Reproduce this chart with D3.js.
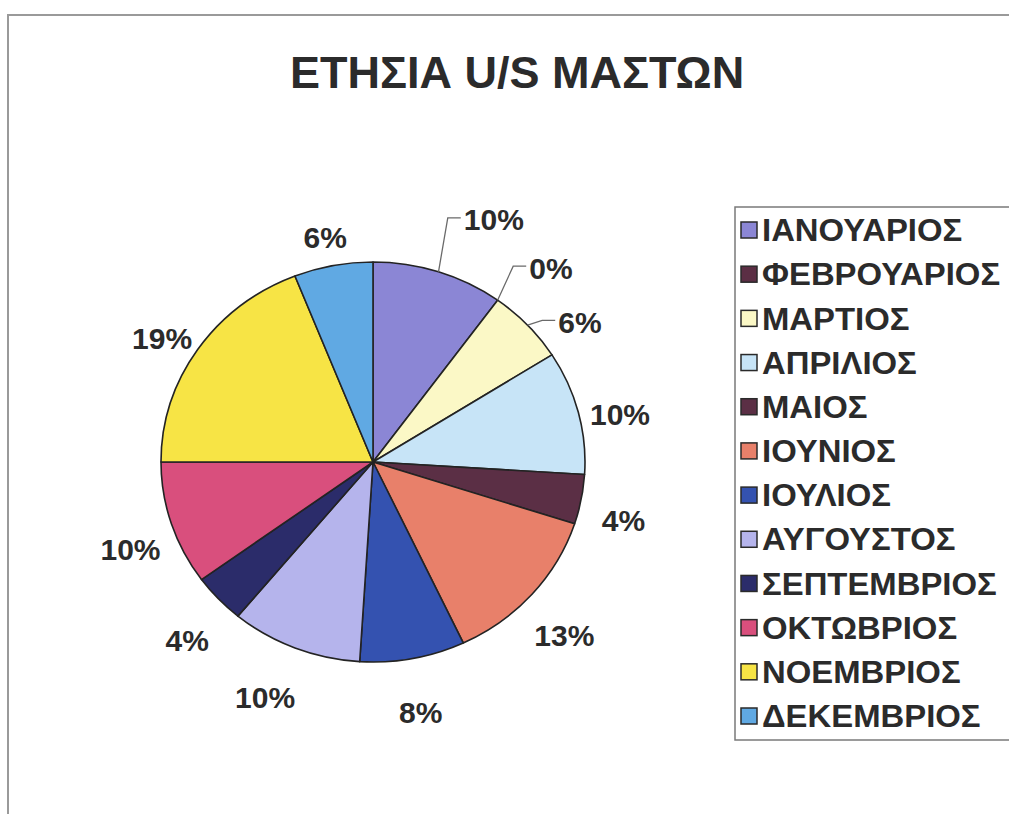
<!DOCTYPE html>
<html>
<head>
<meta charset="utf-8">
<script src="https://cdn.jsdelivr.net/npm/d3@7/dist/d3.min.js"></script>
<style>
  html, body { margin: 0; padding: 0; background: #ffffff; }
  svg { display: block; }
  text { font-family: "Liberation Sans", Arial, sans-serif; font-weight: bold; fill: #2b2b2b; }
</style>
</head>
<body>
<svg id="chart" width="1009" height="814"></svg>
<script>
// ---- Data ----
const title = "ΕΤΗΣΙΑ U/S ΜΑΣΤΩΝ";
const months = ["ΙΑΝΟΥΑΡΙΟΣ", "ΦΕΒΡΟΥΑΡΙΟΣ", "ΜΑΡΤΙΟΣ", "ΑΠΡΙΛΙΟΣ", "ΜΑΙΟΣ", "ΙΟΥΝΙΟΣ",
                "ΙΟΥΛΙΟΣ", "ΑΥΓΟΥΣΤΟΣ", "ΣΕΠΤΕΜΒΡΙΟΣ", "ΟΚΤΩΒΡΙΟΣ", "ΝΟΕΜΒΡΙΟΣ", "ΔΕΚΕΜΒΡΙΟΣ"];
const percents = [10, 0, 6, 10, 4, 13, 8, 10, 4, 10, 19, 6];
const colors = ["#8b86d5", "#5b2e44", "#fbf8c6", "#c7e4f7", "#5b2f45", "#e8806a",
                "#3452b0", "#b5b4ec", "#2b2c6a", "#d94f7d", "#f7e445", "#60a9e3"];

// ---- Layout ----
const W = 1009, H = 814;
const cx = 373, cy = 462, R = 200, stretchX = 1.06;
const labelRing = { dy: 13, rx: 255, ry: 242 };
// labels moved off their default spot (drawn with leader lines)
const labelShift = { 0: [42, -25], 1: [28, -11], 2: [21, 13], 7: [-14, -3] };

const svg = d3.select("#chart");

// outer chart frame (only left/top visible)
svg.append("rect")
  .attr("x", 8).attr("y", 15).attr("width", W + 20).attr("height", H + 20)
  .attr("fill", "#ffffff").attr("stroke", "#9a9a9a").attr("stroke-width", 2);

// title
svg.append("text")
  .attr("transform", `translate(517,88)`)
  .attr("text-anchor", "middle")
  .style("font-size", "45px")
  .text(title);

// pie
const data = months.map((m, i) => ({ name: m, value: percents[i], color: colors[i], i }));
const pie = d3.pie().sort(null).value(d => d.value).startAngle(0).endAngle(2 * Math.PI);
const arcs = pie(data);
const arc = d3.arc().innerRadius(0).outerRadius(R);

const g = svg.append("g").attr("transform", `translate(${cx},${cy}) scale(${stretchX},1)`);
g.selectAll("path.slice")
  .data(arcs.filter(a => a.data.value > 0))
  .join("path")
  .attr("class", "slice")
  .attr("d", arc)
  .attr("fill", a => a.data.color)
  .attr("stroke", "#232323")
  .attr("stroke-width", 1.6)
  .attr("vector-effect", "non-scaling-stroke")
  .attr("stroke-linejoin", "round");

// labels
const labelG = svg.append("g");
arcs.forEach(a => {
  const mid = (a.startAngle + a.endAngle) / 2;
  let lx = cx + labelRing.rx * Math.sin(mid);
  let ly = cy + labelRing.dy - labelRing.ry * Math.cos(mid);
  const shift = labelShift[a.data.i];
  if (shift) { lx += shift[0]; ly += shift[1]; }
  const t = labelG.append("text")
    .attr("transform", `translate(${lx},${ly})`)
    .attr("text-anchor", "middle")
    .attr("dy", "0.35em")
    .style("font-size", "30px")
    .text(d3.format(".0f")(a.data.value) + "%");
  if (shift && a.data.i < 3) {
    const w = t.node().getComputedTextLength();
    const left = lx - w / 2;
    const ex = cx + R * stretchX * Math.sin(mid);
    const ey = cy - R * Math.cos(mid);
    const yy = ly - 2;
    labelG.append("path")
      .attr("d", `M${ex},${ey}L${left - 16},${yy}L${left - 3},${yy}`)
      .attr("fill", "none")
      .attr("stroke", "#6a6a6a")
      .attr("stroke-width", 1.3);
  }
});

// legend
const legX = 735, legY = 207, legW = 290, legH = 533;
const leg = svg.append("g");
leg.append("rect")
  .attr("x", legX).attr("y", legY).attr("width", legW).attr("height", legH)
  .attr("fill", "#ffffff").attr("stroke", "#7a7a7a").attr("stroke-width", 1.5);
const rowY = d3.scalePoint().domain(months).range([230, 716]);
const items = leg.selectAll("g.item").data(data).join("g").attr("class", "item")
  .attr("transform", d => `translate(${legX + 6},${rowY(d.name)})`);
items.append("rect")
  .attr("x", 0).attr("y", -8).attr("width", 16).attr("height", 16)
  .attr("fill", d => d.color).attr("stroke", "#2a2a2a").attr("stroke-width", 1.5);
items.append("text")
  .attr("transform", `translate(21,0) scale(1.06,1)`)
  .attr("dy", "0.36em")
  .style("font-size", "31px")
  .text(d => d.name);
</script>
</body>
</html>
